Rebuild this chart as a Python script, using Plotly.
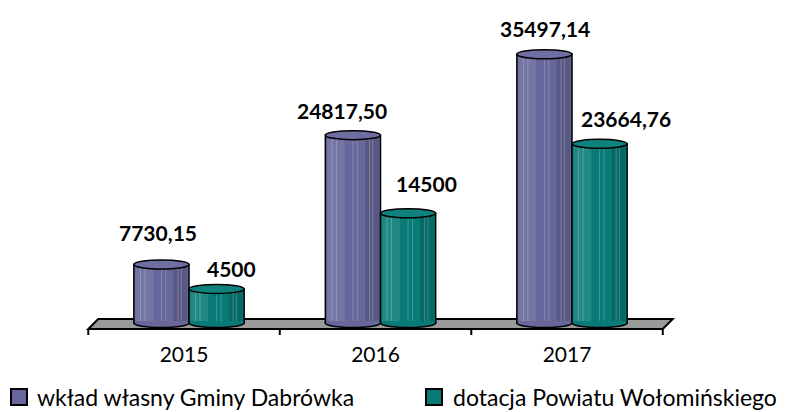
import plotly.graph_objects as go

# ---- data ----
years = ["2015", "2016", "2017"]
wklad = [7730.15, 24817.50, 35497.14]
dotacja = [4500, 14500, 23664.76]
series_names = ["wkład własny Gminy Dabrówka", "dotacja Powiatu Wołomińskiego"]

# ---- style ----
body_colors = ["#67679b", "#097b76"]
top_colors = ["#6e6ea3", "#10827d"]
BAR_W = 0.288
DEPTH = 0.026          # floor skew, in category units
ELL_R = 4.5            # ellipse half height, px
FONT = "Lato"
# label nudges (px) relative to the bar's top centre: (dx, dy)
label_nudge = [
    [(-3, 32), (-11, 25), (1, 26)],
    [(15, 20), (18, 30), (26, 25)],
]

# page geometry: the page body has an 8px margin, so the figure is drawn
# 8px in from the window's top-left corner.
OFF = 8
WIN_W, WIN_H = 800, 412
W, H = WIN_W - OFF, WIN_H - OFF
# plot area in window pixels
PA_L, PA_R, PA_T, PA_B = 60, 740, OFF, 340
L_M, R_M, T_M, B_M = PA_L - OFF, W - (PA_R - OFF), PA_T - OFF, H - (PA_B - OFF)
PW, PH = PA_R - PA_L, PA_B - PA_T

# value scale: zero at window y=323, 0.00757 px per unit
ZERO_Y, PX_PER_UNIT = 323, 0.00757
y_range = [-(PA_B - ZERO_Y) / PX_PER_UNIT, (ZERO_Y - PA_T) / PX_PER_UNIT]
# category scale: category 0 boundary at window x=189, 191.5 px per category
CAT0_X, PX_PER_CAT = 189, 191.5
x_range = [-(CAT0_X - PA_L) / PX_PER_CAT, (PA_R - CAT0_X) / PX_PER_CAT]

legend_items_px = [(11, 35), (426, 451)]   # (square left, text left) window px
LEG_SQ = 16
LEG_CY = 397


def fmt(v):
    if float(v).is_integer():
        return str(int(v))
    return f"{v:.2f}".replace(".", ",")


def px2paper_x(px):
    return (px - PA_L) / PW


def px2paper_y(py):
    return (PA_B - py) / PH


xs = list(range(len(years)))
all_series = [wklad, dotacja]
offsets = [-BAR_W, 0.0]

fig = go.Figure()
for s, vals in enumerate(all_series):
    fig.add_trace(go.Bar(
        x=xs, y=vals, name=series_names[s],
        width=BAR_W, offset=offsets[s],
        marker=dict(color=body_colors[s], line=dict(color="black", width=1.5)),
        hoverinfo="skip", showlegend=False,
    ))

shapes = []
# floor slab
fx0, fx1 = -0.5, len(years) - 0.5
shapes.append(dict(
    type="path", layer="below", ysizemode="pixel", yanchor=0,
    path=(f"M {fx0 - DEPTH},-6 L {fx1 - DEPTH},-6 L {fx1 + DEPTH},4 "
          f"L {fx0 + DEPTH},4 Z"),
    fillcolor="#9a9a9a", line=dict(color="black", width=2),
))
for k in range(len(years) + 1):
    tx = fx0 + k - DEPTH
    shapes.append(dict(
        type="line", layer="below", ysizemode="pixel", yanchor=0,
        x0=tx, x1=tx, y0=-6, y1=-12, line=dict(color="black", width=2),
    ))

K = 0.5523
annotations = []
for s, vals in enumerate(all_series):
    for i, v in enumerate(vals):
        x0 = i + offsets[s]
        x1 = x0 + BAR_W
        xc = (x0 + x1) / 2
        rx = BAR_W / 2
        w = BAR_W
        # shading on the cylinder body
        shapes.append(dict(type="rect", layer="above", x0=x0 + 0.03 * w, x1=x0 + 0.35 * w,
                           y0=0, y1=v, fillcolor="rgba(255,255,255,0.10)", line_width=0))
        shapes.append(dict(type="rect", layer="above", x0=x0 + 0.72 * w, x1=x1 - 0.03 * w,
                           y0=0, y1=v, fillcolor="rgba(0,0,0,0.14)", line_width=0))
        for f in (0.12, 0.2, 0.5, 0.58, 0.8, 0.86):
            shapes.append(dict(type="line", layer="above", x0=x0 + f * w, x1=x0 + f * w,
                               y0=0, y1=v, line=dict(color="rgba(255,255,255,0.22)", width=1)))
        # bottom half ellipse
        curve = (f"C {x0},{-K * ELL_R} {xc - K * rx},{-ELL_R} {xc},{-ELL_R} "
                 f"C {xc + K * rx},{-ELL_R} {x1},{-K * ELL_R} {x1},0")
        shapes.append(dict(type="path", layer="above", ysizemode="pixel", yanchor=0,
                           path=f"M {x0},2 L {x0},0 {curve} L {x1},2 Z",
                           fillcolor=body_colors[s], line_width=0))
        shapes.append(dict(type="path", layer="above", ysizemode="pixel", yanchor=0,
                           path=f"M {x0},2 L {x0},0 {curve} L {x1},2",
                           fillcolor="rgba(0,0,0,0)", line=dict(color="black", width=1.5)))
        # top ellipse
        shapes.append(dict(type="circle", layer="above", ysizemode="pixel", yanchor=v,
                           x0=x0, x1=x1, y0=-ELL_R, y1=ELL_R,
                           fillcolor=top_colors[s], line=dict(color="black", width=1.5)))
        dx, dy = label_nudge[s][i]
        annotations.append(dict(
            x=xc, y=v, text=fmt(v), showarrow=False, xshift=dx, yshift=dy,
            xanchor="center", yanchor="middle",
            font=dict(family=FONT, size=21, color="black", weight="bold"),
        ))

# hand-made legend (square with black border + text), below the chart
for s, (sq_left, tx_left) in enumerate(legend_items_px):
    shapes.append(dict(
        type="rect", xref="paper", yref="paper",
        x0=px2paper_x(sq_left), x1=px2paper_x(sq_left + LEG_SQ),
        y0=px2paper_y(LEG_CY + LEG_SQ / 2), y1=px2paper_y(LEG_CY - LEG_SQ / 2),
        fillcolor=body_colors[s], line=dict(color="black", width=2),
    ))
    annotations.append(dict(
        xref="paper", yref="paper", x=px2paper_x(tx_left), y=px2paper_y(LEG_CY),
        text=series_names[s], showarrow=False, xanchor="left", yanchor="middle",
        font=dict(family=FONT, size=23, color="black"),
    ))

fig.update_layout(
    width=W, height=H,
    margin=dict(l=L_M, r=R_M, t=T_M, b=B_M, pad=0),
    paper_bgcolor="white", plot_bgcolor="white",
    barmode="overlay",
    shapes=shapes, annotations=annotations,
    xaxis=dict(range=x_range, tickvals=[i - DEPTH for i in xs], ticktext=years,
               showgrid=False, zeroline=False, showline=False, ticks="",
               tickfont=dict(family=FONT, size=21, color="black")),
    yaxis=dict(range=y_range, visible=False, showgrid=False, zeroline=False),
    showlegend=False,
)

fig.write_html("out.html")
